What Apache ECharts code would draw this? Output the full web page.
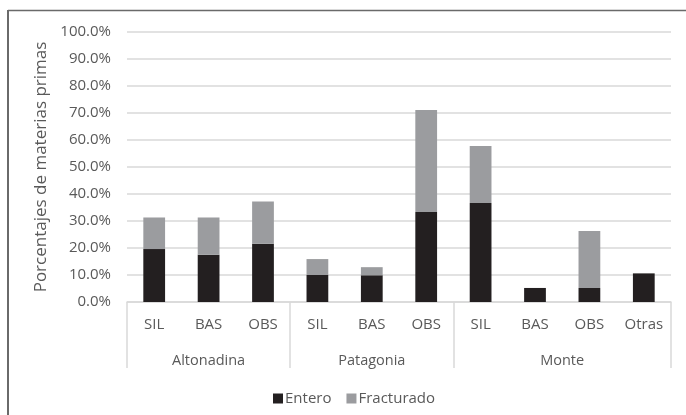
<!DOCTYPE html>
<html>
<head>
<meta charset="utf-8">
<script src="https://cdn.jsdelivr.net/npm/echarts@6/dist/echarts.min.js"></script>
<style>
  html, body { margin: 0; padding: 0; background: #ffffff; }
  #chart { width: 686px; height: 415px; }
</style>
</head>
<body>
<div id="chart"></div>
<script>
// Materias primas por región: piezas enteras y fracturadas (%)
const categories = ['SIL', 'BAS', 'OBS', 'SIL', 'BAS', 'OBS', 'SIL', 'BAS', 'OBS', 'Otras'];
const groups = ['Altonadina', 'Patagonia', 'Monte'];
const groupSizes = [3, 3, 4];
const entero = [19.6, 17.5, 21.6, 10.0, 9.9, 33.3, 36.7, 5.2, 5.2, 10.6];
const fracturado = [11.7, 13.8, 15.6, 5.9, 3.0, 37.8, 21.1, 0, 21.1, 0];
const yTicks = [0, 10, 20, 30, 40, 50, 60, 70, 80, 90, 100];

// group boundaries and centres on the 0..N scale of the second x axis
const bounds = [0];
groupSizes.forEach(n => bounds.push(bounds[bounds.length - 1] + n));
const centres = groups.map((g, i) => (bounds[i] + bounds[i + 1]) / 2);

const FONT = '"Open Sans", sans-serif';
const TXT = '#595959';

const chart = echarts.init(document.getElementById('chart'), null, { renderer: 'canvas' });
chart.setOption({
  animation: false,
  backgroundColor: '#ffffff',
  textStyle: { fontFamily: FONT, color: TXT },
  grid: { left: 127, right: 15, top: 32, bottom: 113, containLabel: false },
  legend: {
    data: ['Entero', 'Fracturado'],
    left: 268,
    top: 386,
    icon: 'rect',
    itemWidth: 10,
    itemHeight: 10,
    itemGap: 15,
    textStyle: { fontFamily: FONT, fontSize: 15, color: TXT, padding: [0, 0, 0, -3] }
  },
  xAxis: [
    {
      type: 'category',
      data: categories,
      axisLine: { show: true, lineStyle: { color: '#d9d9d9', width: 1.5 } },
      axisTick: { show: false },
      axisLabel: { interval: 0, margin: 15, fontFamily: FONT, fontSize: 15, color: TXT }
    },
    {
      type: 'value',
      position: 'bottom',
      min: 0,
      max: categories.length,
      splitLine: { show: false },
      axisLine: { show: false },
      axisTick: {
        show: true,
        customValues: bounds,
        length: 66,
        lineStyle: { color: '#d9d9d9', width: 1.5 }
      },
      axisLabel: {
        customValues: centres,
        margin: 51,
        fontFamily: FONT,
        fontSize: 14.5,
        color: TXT,
        formatter: v => {
          const i = centres.indexOf(v);
          return i >= 0 ? groups[i] : '';
        }
      }
    }
  ],
  yAxis: {
    type: 'value',
    min: yTicks[0],
    max: yTicks[yTicks.length - 1],
    interval: 10,
    name: 'Porcentajes de materias primas',
    nameLocation: 'middle',
    nameRotate: 90,
    nameGap: 75,
    nameTextStyle: { fontFamily: FONT, fontSize: 17, color: TXT },
    axisLine: { show: false },
    axisTick: { show: false },
    axisLabel: {
      margin: 16,
      fontFamily: FONT,
      fontSize: 15,
      color: TXT,
      formatter: v => v.toFixed(1) + '%'
    },
    splitLine: { lineStyle: { color: '#d9d9d9', width: 1.5 } }
  },
  series: [
    {
      name: 'Entero',
      type: 'bar',
      stack: 'total',
      xAxisIndex: 0,
      data: entero,
      barCategoryGap: '60%',
      itemStyle: { color: '#231f20' }
    },
    {
      name: 'Fracturado',
      type: 'bar',
      stack: 'total',
      xAxisIndex: 0,
      data: fracturado,
      barCategoryGap: '60%',
      itemStyle: { color: '#9b9c9f' }
    }
  ],
  graphic: [
    // frame lines along the top and left edges
    { type: 'line', shape: { x1: 8, y1: 10.5, x2: 686, y2: 10.5 }, style: { stroke: '#6a6a6a', lineWidth: 1.5 } },
    { type: 'line', shape: { x1: 8, y1: 10, x2: 8, y2: 415 }, style: { stroke: '#6a6a6a', lineWidth: 2 } }
  ]
});
</script>
</body>
</html>
